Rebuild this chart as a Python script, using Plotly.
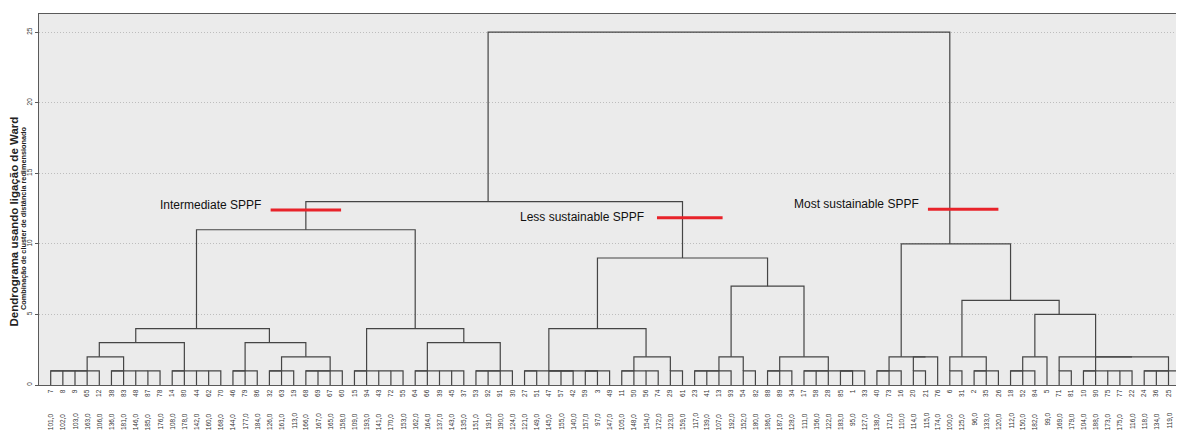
import math
import plotly.graph_objects as go

# ---------------- data ----------------
# leaf order (left to right): case numbers and their label values
case_ids = [7, 8, 9, 65, 12, 38, 83, 48, 87, 78, 14, 80, 44, 62, 70, 46, 79, 86,
            32, 63, 19, 68, 69, 67, 60, 15, 94, 43, 72, 55, 64, 66, 39, 45, 37,
            53, 92, 91, 30, 27, 51, 47, 57, 42, 59, 3, 49, 11, 50, 56, 74, 29,
            61, 23, 41, 13, 93, 54, 82, 88, 89, 34, 17, 58, 28, 85, 1, 33, 40,
            73, 16, 20, 21, 76, 6, 31, 2, 35, 26, 18, 52, 84, 5, 71, 81, 10, 90,
            75, 77, 22, 24, 36, 25, 4]
case_labels = ["101,0", "102,0", "103,0", "163,0", "106,0", "136,0", "181,0", "146,0",
               "185,0", "176,0", "108,0", "178,0", "142,0", "160,0", "168,0", "144,0",
               "177,0", "184,0", "126,0", "161,0", "113,0", "166,0", "167,0", "165,0",
               "158,0", "109,0", "193,0", "141,0", "170,0", "153,0", "162,0", "164,0",
               "137,0", "143,0", "135,0", "151,0", "191,0", "190,0", "124,0", "121,0",
               "149,0", "145,0", "155,0", "140,0", "157,0", "97,0", "147,0", "105,0",
               "148,0", "154,0", "172,0", "123,0", "159,0", "117,0", "139,0", "107,0",
               "192,0", "152,0", "180,0", "186,0", "187,0", "128,0", "111,0", "156,0",
               "122,0", "183,0", "95,0", "127,0", "138,0", "171,0", "110,0", "114,0",
               "115,0", "174,0", "100,0", "125,0", "96,0", "133,0", "120,0", "112,0",
               "150,0", "182,0", "99,0", "169,0", "179,0", "104,0", "188,0", "173,0",
               "175,0", "116,0", "118,0", "134,0", "119,0", "98,0"]

# merges: (rescaled distance, left, right); integers are leaf positions in case_ids
A = (1, (1, (1, (1, 0, 1), 2), 3), 4)
B = (1, (1, 5, 6), (1, 7, (1, 8, 9)))
C = (1, (1, 10, 11), (1, 12, (1, 13, 14)))
D = (1, (1, 15, 16), 17)
E = (1, (1, 18, 19), 20)
F = (1, (1, (1, 21, 22), 23), 24)
G = (1, (1, 25, 26), (1, 27, (1, 28, 29)))
H = (1, (1, 30, 31), (1, 32, (1, 33, 34)))
I = (1, (1, (1, 35, 36), 37), 38)
J = (1, (1, 39, 40), (1, (1, (1, 41, 42), 43), (1, (1, 44, 45), 46)))
K = (1, (1, 47, 48), (1, 49, 50))
L = (1, 51, 52)
M = (1, (1, (1, 53, 54), 55), 56)
N = (1, 57, 58)
O = (1, (1, 59, 60), 61)
P = (1, (1, (1, 62, 63), 64), (1, (1, 65, 66), 67))
Q = (1, (1, 68, 69), 70)
R = (1, 71, 72)
S = (1, 74, 75)
T = (1, (1, 76, 77), 78)
U = (1, (1, 79, 80), 81)
V = (1, 83, 84)
W = (1, (1, 85, 86), (1, 87, (1, 88, 89)))
X = (1, (1, (1, 90, 91), 92), 93)

intermediate = (11, (4, (3, (2, A, B), C), (3, D, (2, E, F))), (4, G, (3, H, I)))
less_sust = (9, (4, J, (2, K, L)), (7, (2, M, N), (2, O, P)))
most_sust = (10, (2, Q, (2, R, 73)), (6, (2, S, T), (5, (2, U, 82), (2, V, (2, W, X)))))
root = (25, (13, intermediate, less_sust), most_sust)

y_ticks = [0, 5, 10, 15, 20, 25]

# cluster notes: text, text right end (leaf units), text height, red bar span
notes = [("Intermediate SPPF", 17.45, 12.75, 18.1, 23.9, 12.4),
         ("Less sustainable SPPF", 49.0, 11.9, 49.9, 55.3, 11.85),
         ("Most sustainable SPPF", 71.6, 12.85, 72.2, 78.0, 12.45)]

# ---------------- layout of the tree ----------------
seg_x, seg_y = [], []


def place(node):
    if isinstance(node, int):
        return node, 0.0
    h, left, right = node
    xl, hl = place(left)
    xr, hr = place(right)
    seg_x.extend([xl, xl, xr, xr, None])
    seg_y.extend([hl, h, h, hr, None])
    return math.floor((xl + xr) / 2), h


place(root)

# the page body adds an 8px offset; the figure is sized to the remaining view
OFF = 8
W_PX, H_PX = 1184 - OFF, 432 - OFF
ML, MR, MT = 39 - OFF, 0, 14 - OFF
MB = H_PX - (385 - OFF)
plot_w = W_PX - ML - MR
plot_h = H_PX - MT - MB
unit_x = 12.15
x0 = -11.7 / unit_x
x_range = [x0, x0 + plot_w / unit_x]
y_range = [0, 26.29]


def px_x(px):
    return (px - OFF - ML) / plot_w


def px_y(py):
    return (H_PX - MB - (py - OFF)) / plot_h


FONT = "Liberation Sans, Arial, sans-serif"

fig = go.Figure()
fig.add_trace(go.Scatter(x=seg_x, y=seg_y, mode="lines",
                         line=dict(color="#454545", width=1.2),
                         hoverinfo="skip", showlegend=False))

annotations = []
for i, lab in enumerate(case_labels):
    annotations.append(dict(x=px_x(50.7 + unit_x * i), xref="paper", y=px_y(411), yref="paper",
                            text=lab, showarrow=False, textangle=-90,
                            xanchor="center", yanchor="top",
                            font=dict(family=FONT, size=6.5, color="#333333")))

annotations.append(dict(x=px_x(13.5), xref="paper", y=px_y(222), yref="paper",
                        text="<b>Dendrograma usando ligação de Ward</b>", showarrow=False,
                        textangle=-90, xanchor="center", yanchor="middle",
                        font=dict(family=FONT, size=11.5, color="#222222")))
annotations.append(dict(x=px_x(23), xref="paper", y=px_y(219), yref="paper",
                        text="<b>Combinação de cluster de distância redimensionado</b>",
                        showarrow=False, textangle=-90, xanchor="center", yanchor="middle",
                        font=dict(family=FONT, size=7.3, color="#222222")))

shapes = []
for text, tx, ty, bx0, bx1, by in notes:
    annotations.append(dict(x=tx, y=ty, xref="x", yref="y", text=text, showarrow=False,
                            xanchor="right", yanchor="middle",
                            font=dict(family=FONT, size=12, color="#111111")))
    shapes.append(dict(type="line", xref="x", yref="y", x0=bx0, x1=bx1, y0=by, y1=by,
                       line=dict(color="#e8232a", width=3)))

fig.update_layout(
    width=W_PX, height=H_PX,
    margin=dict(l=ML, r=MR, t=MT, b=MB, pad=0, autoexpand=False),
    paper_bgcolor="white", plot_bgcolor="#ebebeb",
    annotations=annotations, shapes=shapes,
    showlegend=False,
)
fig.update_xaxes(range=x_range, tickmode="array", tickvals=list(range(len(case_ids))),
                 ticktext=[str(c) for c in case_ids], tickangle=-90,
                 tickfont=dict(family=FONT, size=6.5, color="#333333"),
                 showgrid=False, zeroline=False, showline=True, mirror=True,
                 linecolor="#5a5a5a", linewidth=1.3, ticks="", ticklabelstandoff=1,
                 ticklabeloverflow="allow", automargin=False)
fig.update_yaxes(range=y_range, tickmode="array", tickvals=y_ticks,
                 ticktext=[str(v) for v in y_ticks], tickangle=-90,
                 tickfont=dict(family=FONT, size=6.5, color="#333333"),
                 showgrid=True, gridcolor="#bdbdbd", griddash="1px,2px", gridwidth=1,
                 zeroline=False, showline=True, linecolor="#5a5a5a", linewidth=1.3,
                 ticks="outside", ticklen=3, tickcolor="#5a5a5a", automargin=False)

fig.write_html("out.html")
